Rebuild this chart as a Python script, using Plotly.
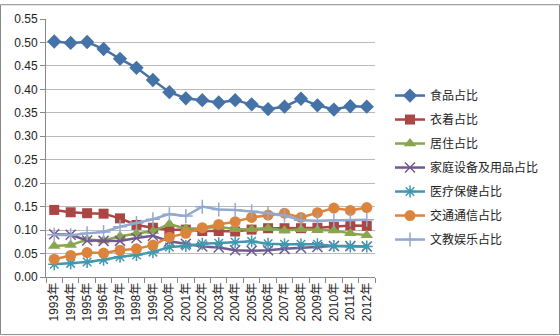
import plotly.graph_objects as go

years = [f"{y}年" for y in range(1993, 2013)]

food = [0.502, 0.499, 0.501, 0.486, 0.465, 0.446, 0.420, 0.394, 0.381, 0.377, 0.372, 0.377, 0.368, 0.358, 0.363, 0.380, 0.366, 0.357, 0.364, 0.363]
clothing = [0.143, 0.138, 0.136, 0.135, 0.125, 0.111, 0.105, 0.100, 0.101, 0.098, 0.098, 0.097, 0.101, 0.104, 0.104, 0.104, 0.105, 0.107, 0.110, 0.109]
housing = [0.066, 0.068, 0.080, 0.078, 0.087, 0.093, 0.098, 0.113, 0.103, 0.104, 0.107, 0.102, 0.102, 0.104, 0.099, 0.102, 0.100, 0.099, 0.093, 0.089]
household = [0.091, 0.090, 0.078, 0.077, 0.077, 0.083, 0.088, 0.076, 0.071, 0.065, 0.063, 0.057, 0.056, 0.057, 0.060, 0.062, 0.064, 0.066, 0.066, 0.065]
health = [0.027, 0.029, 0.032, 0.037, 0.043, 0.047, 0.053, 0.064, 0.066, 0.071, 0.072, 0.074, 0.076, 0.071, 0.070, 0.070, 0.070, 0.066, 0.065, 0.065]
transport = [0.038, 0.046, 0.052, 0.051, 0.057, 0.060, 0.068, 0.085, 0.093, 0.105, 0.112, 0.118, 0.127, 0.132, 0.136, 0.127, 0.137, 0.147, 0.142, 0.148]
culture = [0.090, 0.089, 0.093, 0.096, 0.107, 0.115, 0.123, 0.134, 0.130, 0.150, 0.144, 0.143, 0.140, 0.136, 0.131, 0.121, 0.120, 0.121, 0.122, 0.122]

series = [
    ("食品占比", food, "#4572A7", "diamond", 11),
    ("衣着占比", clothing, "#AA4643", "square", 10),
    ("居住占比", housing, "#89A54E", "triangle-up", 11),
    ("家庭设备及用品占比", household, "#71588F", "x-thin-open", 10),
    ("医疗保健占比", health, "#4198AF", "asterisk-open", 10),
    ("交通通信占比", transport, "#DB843D", "circle", 11),
    ("文教娱乐占比", culture, "#93A9CF", "cross-thin-open", 10),
]

fig = go.Figure()
for i, (name, vals, color, sym, size) in enumerate(series):
    marker = dict(symbol=sym, size=size, color=color)
    if sym.endswith("-open"):
        marker["line"] = dict(color=color, width=1.5)
    fig.add_trace(go.Scatter(
        x=years, y=vals, name=name, mode="lines+markers",
        line=dict(color=color, width=2.5), marker=marker,
        legendgroup=f"g{i}",
    ))

L, R, T, B = 46, 185, 15, 59
W, H = 560, 336
pw, ph = W - L - R, H - T - B

fig.update_layout(
    width=W, height=H,
    margin=dict(l=L, r=R, t=T, b=B),
    paper_bgcolor="white", plot_bgcolor="white",
    font=dict(family="Liberation Sans, Noto Sans CJK SC, sans-serif", size=12, color="#222"),
    showlegend=True,
    legend=dict(
        x=(390 - L) / pw, y=(277 - 78) / ph, xanchor="left", yanchor="top",
        font=dict(size=12, family="Noto Sans CJK SC, sans-serif", color="#222"),
        tracegroupgap=5, itemwidth=30, bgcolor="rgba(0,0,0,0)",
    ),
    xaxis=dict(
        type="category", range=[-0.5, 19.5], tickangle=-90,
        showline=True, linecolor="#888", linewidth=1,
        ticks="outside", tickson="boundaries", ticklen=5, tickcolor="#888",
        showgrid=False, tickfont=dict(size=12, family="Liberation Sans, Noto Sans CJK SC"),
    ),
    yaxis=dict(
        range=[0, 0.55], dtick=0.05, tickformat=".2f",
        showline=True, linecolor="#888", linewidth=1,
        ticks="outside", ticklen=5, tickcolor="#888",
        showgrid=True, gridcolor="#BBBBBB", gridwidth=1, zeroline=False,
        tickfont=dict(size=12),
    ),
    shapes=[dict(
        type="rect", xref="paper", yref="paper",
        x0=(0.5 - L) / pw, x1=(W - 0.5 - L) / pw,
        y0=(ph + T - (H - 0.5)) / ph,
        y1=(ph + T - 0.5) / ph,
        line=dict(color="#888", width=1), fillcolor="rgba(0,0,0,0)", layer="below",
    )],
)

fig.write_html("out.html")
